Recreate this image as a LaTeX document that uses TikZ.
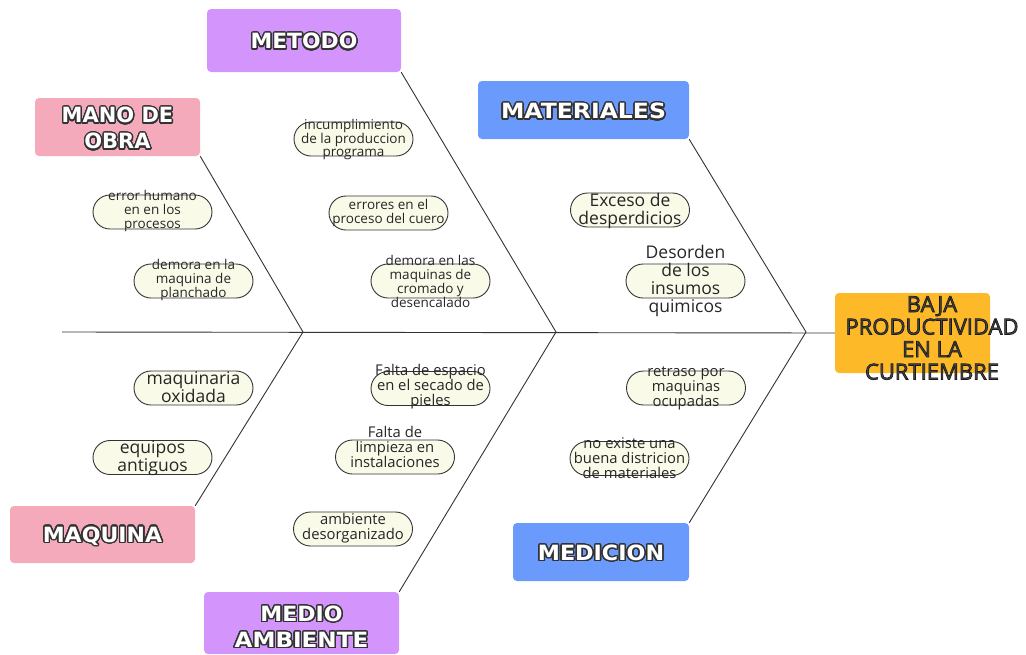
\documentclass[tikz,border=0pt]{standalone}
\usepackage{fontspec}
\usepackage{contour}
\setmainfont{Open Sans}
\newfontfamily\headfont{DejaVu Sans}
\contourlength{1.3pt}
\contournumber{32}
\definecolor{cviolet}{HTML}{D394FC}
\definecolor{cpink}{HTML}{F4AABA}
\definecolor{cblue}{HTML}{6A9BFC}
\definecolor{corange}{HTML}{FDB928}
\definecolor{ccream}{HTML}{FAFAE9}
\definecolor{cline}{HTML}{333333}
\newcommand\hd[2][1]{\scalebox{#1}[1]{\contour{cline}{\textcolor{white}{#2}}}}
\newcommand\ef[1]{\textcolor{black!72}{\special{pdf:literal 0.1 G 0.7 w 2 Tr}#1\special{pdf:literal 0 Tr 0.4 w}}}
\begin{document}
\begin{tikzpicture}[x=1pt,y=-1pt,
  head/.style={rounded corners=4pt, inner sep=0pt, align=center,
    font=\headfont\bfseries\fontsize{21}{26}\selectfont},
  cause/.style={draw=cline, line width=0.9pt, fill=ccream, rounded corners=17pt,
    minimum width=119pt, minimum height=34pt, inner sep=0pt},
  ctext/.style={align=center, text=black!85, inner sep=0pt},
  fa/.style={ctext, font=\fontsize{13.5}{13.8}\selectfont},
  fb/.style={ctext, font=\fontsize{14.8}{15}\selectfont},
  fc/.style={ctext, font=\fontsize{17.5}{18}\selectfont},
  bone/.style={draw=cline, line width=0.9pt}]
\useasboundingbox (0,0) rectangle (1026,654);
% head boxes
\node[head, fill=cviolet, minimum width=194pt, minimum height=63pt] (metodo) at (304,40.5) {};
\node[head] (metodot) at (304,42) {\hd[1.04]{METODO}};
\node[head, fill=cpink, minimum width=165pt, minimum height=58pt] (mano) at (117.5,127) {};
\node[head] (manot) at (117.5,129) {\hd{MANO DE}\\\hd{OBRA}};
\node[head, fill=cblue, minimum width=211pt, minimum height=58pt] (materiales) at (583.5,110) {};
\node[head] (materialest) at (583.5,112) {\hd[1.12]{MATERIALES}};
\node[head, fill=cpink, minimum width=185pt, minimum height=57pt] (maquina) at (102.5,534.5) {};
\node[head] (maquinat) at (102.5,536.5) {\hd[1.05]{MAQUINA}};
\node[head, fill=cviolet, minimum width=195pt, minimum height=62pt] (medio) at (301.5,623) {};
\node[head] (mediot) at (301.5,627.5) {\hd[1.05]{MEDIO}\\\hd[1.1]{AMBIENTE}};
\node[head, fill=cblue, minimum width=176pt, minimum height=58pt] (medicion) at (601,552) {};
\node[head] (mediciont) at (601,553.5) {\hd[1.06]{MEDICION}};
\node[rounded corners=4pt, fill=corange, minimum width=155pt, minimum height=80pt, inner sep=0pt] (effect) at (912.5,333) {};
\node[align=center, font=\fontsize{22}{22.5}\selectfont, inner sep=0pt] (effectt) at (932,338) {\ef{BAJA}\\\ef{PRODUCTIVIDAD}\\\ef{EN LA}\\\ef{CURTIEMBRE}};
% spine and bones
\coordinate (tail) at (62,332);
\coordinate (v1) at (303,332);
\coordinate (v2) at (556,332);
\coordinate (v3) at (806,332);
\draw[bone] (tail) -- (effect.west);
\draw[bone] (mano.south east) -- (v1) -- (maquina.north east);
\draw[bone] (metodo.south east) -- (v2) -- (medio.north east);
\draw[bone] (materiales.south east) -- (v3) -- (medicion.north east);
% causes
\node[cause] (c1) at (353.5,139) {};
\node[fa] (t1) at (353.5,139.5) {incumplimiento\\de la produccion\\programa};
\node[cause] (c2) at (152.5,212) {};
\node[fa] (t2) at (152.5,211) {error humano\\en en los\\procesos};
\node[cause] (c3) at (388.5,213) {};
\node[fa] (t3) at (388.5,213) {errores en el\\proceso del cuero};
\node[cause] (c4) at (193.5,281) {};
\node[fa] (t4) at (193.5,280) {demora en la\\maquina de\\planchado};
\node[cause] (c5) at (430.5,281) {};
\node[fa] (t5) at (430.5,281.5) {demora en las\\maquinas de\\cromado y\\desencalado};
\node[cause] (c6) at (630,210) {};
\node[fc] (t6) at (630,211) {Exceso de\\desperdicios};
\node[cause] (c7) at (685.5,281) {};
\node[fc] (t7) at (685.5,281) {Desorden\\de los\\insumos\\quimicos};
\node[cause] (c8) at (193.5,388) {};
\node[fc] (t8) at (193.5,387) {maquinaria\\oxidada};
\node[cause] (c9) at (152.5,457.5) {};
\node[fc] (t9) at (152.5,458) {equipos\\antiguos};
\node[cause] (c10) at (430.5,388.5) {};
\node[fb] (t10) at (430.5,387) {Falta de espacio\\en el secado de\\pieles};
\node[cause] (c11) at (395,457) {};
\node[fb] (t11) at (395,446.5) {Falta de\\limpieza en\\instalaciones};
\node[cause] (c12) at (353,529) {};
\node[fb] (t12) at (353,528) {ambiente\\desorganizado};
\node[cause] (c13) at (686,388) {};
\node[fb] (t13) at (686,388) {retraso por\\maquinas\\ocupadas};
\node[cause] (c14) at (629.5,458.5) {};
\node[fb] (t14) at (629.5,458.5) {no existe una\\buena districion\\de materiales};
\end{tikzpicture}
\end{document}
